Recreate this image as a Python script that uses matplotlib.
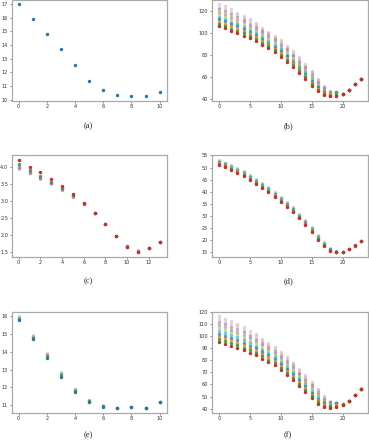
import numpy as np
import matplotlib
matplotlib.use('Agg')
import matplotlib.pyplot as plt

# ---- dados ----
a_x = list(range(11))
a_y = [16.97, 15.91, 14.82, 13.69, 12.53, 11.39, 10.68, 10.35, 10.28, 10.23, 10.56]

# (b) uma linha por x, valores da serie final (embaixo) ate a mais antiga (em cima)
b_x = list(range(24))
b_cols = [
    [106.3, 108.5, 110.8, 113.0, 115.3, 117.5, 119.8, 122.0, 124.3, 126.5],
    [104.5, 106.7, 109.0, 111.2, 113.4, 115.7, 117.9, 120.1, 122.4, 124.6],
    [102.0, 104.2, 106.4, 108.6, 110.8, 113.1, 115.3, 117.5, 119.7, 121.9],
    [100.2, 102.3, 104.3, 106.4, 108.5, 110.5, 112.6, 114.7, 116.7, 118.8],
    [98.0, 100.0, 102.0, 104.0, 106.0, 108.0, 110.0, 112.0, 114.0, 116.0],
    [95.5, 97.4, 99.3, 101.3, 103.2, 105.1, 107.0, 108.9, 110.9, 112.8],
    [93.0, 94.8, 96.6, 98.4, 100.2, 101.9, 103.7, 105.5, 107.3, 109.1],
    [89.7, 91.4, 93.1, 94.8, 96.5, 98.3, 100.0, 101.7, 103.4, 105.1],
    [86.5, 88.2, 89.9, 91.5, 93.2, 94.9, 96.6, 98.3, 99.9, 101.6],
    [82.8, 84.5, 86.1, 87.8, 89.5, 91.1, 92.8, 94.5, 96.1, 97.8],
    [78.7, 80.3, 82.0, 83.6, 85.3, 86.9, 88.6, 90.2, 91.9, 93.5],
    [74.1, 75.7, 77.3, 78.9, 80.5, 82.1, 83.7, 85.3, 86.9, 88.5],
    [69.4, 71.0, 72.5, 74.1, 75.7, 77.2, 78.8, 80.4, 81.9, 83.5],
    [63.8, 65.4, 67.0, 68.6, 70.2, 71.7, 73.3, 74.9, 76.5, 78.1],
    [58.2, 59.7, 61.3, 62.8, 64.4, 65.9, 67.5, 69.0, 70.5, 72.1],
    [52.0, 53.5, 55.0, 56.6, 58.1, 59.6, 61.1, 62.7, 64.2, 65.7],
    [46.8, 48.1, 49.4, 50.7, 52.0, 53.3, 54.6, 55.9, 57.2, 58.5],
    [43.3, 44.3, 45.3, 46.2, 47.2, 48.2, 49.2, 50.1, 51.1, 52.1],
    [42.3, 42.9, 43.5, 44.0, 44.6, 45.2, 45.8, 46.3, 46.9, 47.5],
    [42.8, 43.6, 44.6, 45.6, 46.0, 46.0, 46.0, 46.0, 46.0, 46.0],
    [44.8, 44.8, 44.8, 44.8, 44.8, 44.8, 44.8, 44.8, 44.8, 44.8],
    [48.5, 48.2, 48.5, 48.5, 48.5, 48.5, 48.5, 48.5, 48.5, 48.5],
    [53.8, 53.5, 53.8, 53.8, 53.8, 53.8, 53.8, 53.8, 53.8, 53.8],
    [58.0, 58.0, 58.0, 58.0, 58.0, 58.0, 58.0, 58.0, 58.0, 58.0],
]

# (c) serie final (vermelha) primeiro
c_x = list(range(14))
c_red = [4.19, 4.00, 3.83, 3.64, 3.44, 3.21, 2.94, 2.66, 2.33, 1.97, 1.65, 1.51, 1.63, 1.81]
c_green = [4.08, 3.90, 3.72, 3.56, 3.37, 3.16, 2.93, 2.66, 2.33, 1.98, 1.67, 1.52, 1.63, 1.81]
c_pink = [4.03, 3.86, 3.69, 3.53, 3.35, 3.14, 2.92, 2.65, 2.33, 1.98, 1.68, 1.53, 1.63, 1.81]
c_blue = [4.00, 3.85, 3.68, 3.52, 3.34, 3.13, 2.92, 2.65, 2.34, 1.99, 1.70, 1.54, 1.63, 1.81]
c_purple = [3.97, 3.82, 3.66, 3.51, 3.33, 3.12, 2.91, 2.65, 2.34, 1.99, 1.69, 1.55, 1.63, 1.81]
c_orange = [3.94, 3.80, 3.65, 3.50, 3.32, 3.12, 2.91, 2.64, 2.33, 1.98, 1.68, 1.56, 1.62, 1.80]

# (d)
d_x = list(range(24))
d_red = [51.2, 50.1, 49.0, 47.8, 46.6, 45.0, 43.4, 41.7, 40.0, 37.9, 35.8, 33.7,
         31.6, 29.0, 26.4, 23.4, 20.3, 17.7, 15.7, 15.1, 15.3, 16.3, 17.9, 19.6]
d_green = [51.6, 50.5, 49.4, 48.2, 47.0, 45.4, 43.8, 42.1, 40.4, 38.3, 36.2, 34.1,
           32.0, 29.4, 26.8, 23.8, 20.7, 18.0, 15.9, 15.2, 15.3, 16.3, 17.8, 19.6]
d_orange = [52.0, 50.9, 49.8, 48.6, 47.4, 45.8, 44.2, 42.5, 40.8, 38.7, 36.6, 34.5,
            32.4, 29.8, 27.2, 24.2, 21.1, 18.3, 16.1, 15.3, 15.3, 16.3, 17.7, 19.6]
d_blue = [52.3, 51.3, 50.2, 49.0, 47.8, 46.2, 44.6, 42.9, 41.2, 39.1, 37.0, 34.9,
          32.8, 30.2, 27.6, 24.6, 21.4, 18.6, 16.3, 15.3, 15.3, 16.3, 17.7, 19.6]
d_cyan = [52.7, 51.7, 50.6, 49.4, 48.2, 46.6, 45.0, 43.3, 41.6, 39.5, 37.4, 35.3,
          33.2, 30.6, 28.0, 25.0, 21.8, 18.9, 16.5, 15.4, 15.3, 16.3, 17.7, 19.6]
d_gray = [53.0, 52.1, 51.0, 49.8, 48.6, 47.0, 45.4, 43.7, 42.0, 39.9, 37.8, 35.7,
          33.6, 31.0, 28.4, 25.4, 22.1, 19.2, 16.7, 15.4, 15.3, 16.3, 17.7, 19.6]

# (e)
e_x = list(range(11))
e_blue = [15.77, 14.71, 13.67, 12.61, 11.74, 11.19, 10.94, 10.85, 10.89, 10.85, 11.21]
e_green = [15.83, 14.77, 13.74, 12.69, 11.80, 11.23, 10.96, 10.85, 10.89, 10.85, 11.21]
e_orange = [15.88, 14.83, 13.80, 12.75, 11.85, 11.26, 10.97, 10.85, 10.89, 10.85, 11.21]
e_cyan = [15.93, 14.88, 13.85, 12.80, 11.89, 11.29, 10.99, 10.85, 10.89, 10.85, 11.21]
e_pink = [15.98, 14.93, 13.90, 12.86, 11.93, 11.32, 11.01, 10.86, 10.89, 10.85, 11.21]

# (f)
f_x = list(range(24))
f_cols = [
    [95.0, 97.4, 99.8, 102.2, 104.6, 107.1, 109.5, 111.9, 114.3, 116.7],
    [93.7, 96.0, 98.3, 100.6, 102.9, 105.3, 107.6, 109.9, 112.2, 114.5],
    [92.2, 94.4, 96.7, 98.9, 101.1, 103.4, 105.6, 107.8, 110.1, 112.3],
    [90.3, 92.5, 94.8, 97.0, 99.3, 101.5, 103.8, 106.0, 108.3, 110.5],
    [88.3, 90.4, 92.6, 94.7, 96.8, 98.9, 101.1, 103.2, 105.4, 107.5],
    [86.3, 88.3, 90.3, 92.3, 94.3, 96.2, 98.2, 100.2, 102.2, 104.2],
    [84.1, 86.1, 88.1, 90.1, 92.1, 94.0, 96.0, 98.0, 100.0, 102.0],
    [81.5, 83.3, 85.1, 86.9, 88.7, 90.6, 92.4, 94.2, 96.0, 97.8],
    [79.0, 80.7, 82.4, 84.1, 85.8, 87.4, 89.1, 90.8, 92.5, 94.2],
    [76.1, 77.8, 79.4, 81.1, 82.7, 84.4, 86.0, 87.7, 89.3, 91.0],
    [72.2, 73.9, 75.5, 77.2, 78.8, 80.5, 82.1, 83.8, 85.4, 87.1],
    [68.2, 69.8, 71.4, 73.0, 74.6, 76.2, 77.8, 79.4, 81.0, 82.6],
    [63.9, 65.5, 67.1, 68.7, 70.3, 71.8, 73.4, 75.0, 76.6, 78.2],
    [59.1, 60.6, 62.2, 63.7, 65.2, 66.8, 68.3, 69.8, 71.4, 72.9],
    [54.0, 55.5, 57.1, 58.6, 60.1, 61.7, 63.2, 64.7, 66.3, 67.8],
    [48.6, 50.1, 51.6, 53.1, 54.6, 56.2, 57.7, 59.2, 60.7, 62.2],
    [44.1, 45.5, 46.9, 48.2, 49.6, 51.0, 52.4, 53.7, 55.1, 56.5],
    [41.5, 42.5, 43.5, 44.4, 45.4, 46.4, 47.4, 48.3, 49.3, 50.3],
    [40.4, 41.1, 41.7, 42.4, 43.1, 43.7, 44.4, 45.1, 45.7, 46.4],
    [41.5, 42.5, 43.5, 44.5, 44.6, 44.6, 44.6, 44.6, 44.6, 44.6],
    [43.1, 43.4, 43.7, 44.0, 44.2, 44.2, 44.2, 44.2, 44.2, 44.2],
    [46.5, 46.2, 46.5, 46.5, 46.5, 46.5, 46.5, 46.5, 46.5, 46.5],
    [51.3, 51.0, 51.3, 51.3, 51.3, 51.3, 51.3, 51.3, 51.3, 51.3],
    [55.9, 55.9, 55.9, 55.9, 55.9, 55.9, 55.9, 55.9, 55.9, 55.9],
]

# cores da serie de baixo (final) ate a de cima
cores_bf = ['tab:red', 'tab:green', 'tab:orange', 'tab:blue', 'tab:cyan',
            'tab:olive', 'tab:purple', 'tab:brown', 'tab:pink', 'tab:gray']


def desenhar(ax, xs, series, cores, alfas, s=6):
    # desenha da mais antiga (clara) para a final (opaca por cima)
    for vals, cor, a in reversed(list(zip(series, cores, alfas))):
        ax.scatter(xs[:len(vals)], vals, s=s, color=cor, alpha=a,
                   linewidths=0, zorder=2)


def estilo(ax, xticks, yticks, ylabels=None):
    ax.set_xticks(xticks)
    ax.set_yticks(yticks)
    if ylabels is not None:
        ax.set_yticklabels(ylabels)
    ax.tick_params(labelsize=3.6, length=1.5, width=0.5, pad=1,
                   colors='#555555', labelcolor='#333333')
    for sp in ax.spines.values():
        sp.set_color('#aaaaaa')
        sp.set_linewidth(0.9)


fig = plt.figure(figsize=(3.69, 4.40), dpi=100)

esq_l, esq_r = 0.0317, 0.5737
larg_l, larg_r = 0.42, 0.4244
bases = [0.7705, 0.4166, 0.062]
altura = 0.2300

axa = fig.add_axes([esq_l, bases[0], larg_l, altura])
axb = fig.add_axes([esq_r, bases[0], larg_r, altura])
axc = fig.add_axes([esq_l, bases[1], larg_l, altura])
axd = fig.add_axes([esq_r, bases[1], larg_r, altura])
axe = fig.add_axes([esq_l, bases[2], larg_l, altura])
axf = fig.add_axes([esq_r, bases[2], larg_r, altura])

# (a)
axa.scatter(a_x, a_y, s=6, color='tab:blue', linewidths=0, zorder=2)
estilo(axa, range(0, 11, 2), range(10, 18))

# (b)
b_series = np.array(b_cols).T
alf10 = np.linspace(1.0, 0.3, 10)
desenhar(axb, b_x, b_series, cores_bf, alf10)
estilo(axb, range(0, 21, 5), range(40, 121, 20))

# (c)
c_series = [c_red, c_green, c_pink, c_blue, c_purple, c_orange]
c_cores = ['tab:red', 'tab:green', 'tab:pink', 'tab:blue', 'tab:purple', 'tab:orange']
desenhar(axc, c_x, c_series, c_cores, np.linspace(1.0, 0.35, 6))
estilo(axc, range(0, 13, 2), [1.5, 2.0, 2.5, 3.0, 3.5, 4.0],
       ['1.5', '2.0', '2.5', '3.0', '3.5', '4.0'])

# (d)
d_series = [d_red, d_green, d_orange, d_blue, d_cyan, d_gray]
d_cores = ['tab:red', 'tab:green', 'tab:orange', 'tab:blue', 'tab:cyan', 'tab:gray']
desenhar(axd, d_x, d_series, d_cores, np.linspace(1.0, 0.3, 6))
estilo(axd, range(0, 21, 5), range(15, 56, 5))

# (e)
e_series = [e_blue, e_green, e_orange, e_cyan, e_pink]
e_cores = ['tab:blue', 'tab:green', 'tab:orange', 'tab:cyan', 'tab:pink']
desenhar(axe, e_x, e_series, e_cores, np.linspace(1.0, 0.3, 5))
estilo(axe, range(0, 11, 2), range(11, 17))

# (f)
f_series = np.array(f_cols).T
desenhar(axf, f_x, f_series, cores_bf, alf10)
estilo(axf, range(0, 21, 5), range(40, 121, 10))

# legendas (a)-(f)
legendas = ['(a)', '(b)', '(c)', '(d)', '(e)', '(f)']
ys_leg = [1 - 125.7 / 440, 1 - 280.7 / 440, 1 - 435.5 / 440]
for i, txt in enumerate(legendas):
    xl = 88 / 369 if i % 2 == 0 else 288 / 369
    fig.text(xl, ys_leg[i // 2], txt, ha='center', va='center',
             fontsize=6, family='Liberation Serif', color='#222222')

fig.savefig('out.png', dpi=100)
